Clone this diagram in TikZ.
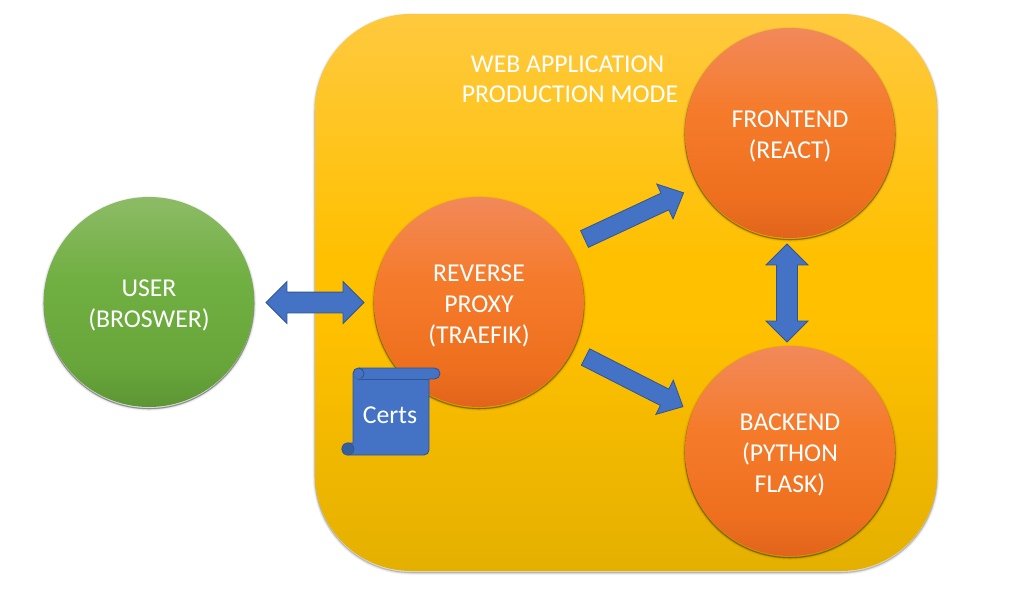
\documentclass[tikz,border=0pt]{standalone}
\usepackage{fontspec}
\setmainfont{Carlito}
\usetikzlibrary{shapes.arrows}
\definecolor{blk}{HTML}{4472C4}
\definecolor{blkline}{HTML}{2F5597}
\definecolor{blkdark}{HTML}{365F9E}
\definecolor{orA}{HTML}{E2641B}
\definecolor{orB}{HTML}{EE701F}
\definecolor{orC}{HTML}{F57B2A}
\definecolor{orD}{HTML}{F2895A}
\definecolor{grA}{HTML}{5C9634}
\definecolor{grB}{HTML}{68A63B}
\definecolor{grC}{HTML}{70AF41}
\definecolor{grD}{HTML}{8DBB66}
\definecolor{apA}{HTML}{E4B000}
\definecolor{apB}{HTML}{FFC000}
\definecolor{apC}{HTML}{FFC93E}
\pgfdeclareverticalshading{orangefill}{100bp}{color(0bp)=(orA);color(25bp)=(orA);color(35bp)=(orB);color(55bp)=(orC);color(75bp)=(orD);color(100bp)=(orD)}
\pgfdeclareverticalshading{greenfill}{100bp}{color(0bp)=(grA);color(25bp)=(grA);color(35bp)=(grB);color(55bp)=(grC);color(75bp)=(grD);color(100bp)=(grD)}
\pgfdeclareverticalshading{appfill}{100bp}{color(0bp)=(apA);color(25bp)=(apA);color(47bp)=(apB);color(53bp)=(apB);color(75bp)=(apC);color(100bp)=(apC)}
\tikzset{
  softshadow/.style={
    preaction={draw=black,draw opacity=.05,line width=3.5pt,transform canvas={yshift=-1.1pt}},
    preaction={draw=black,draw opacity=.08,line width=2pt,transform canvas={yshift=-1.1pt}},
    preaction={draw=black,draw opacity=.18,line width=.8pt,transform canvas={yshift=-1.1pt}}},
  ballshadow/.style={softshadow,
    preaction={draw=black,draw opacity=.22,line width=.8pt,transform canvas={yshift=-1.3pt}}},
  lbl/.style={text=white,align=center,font=\fontsize{19.3}{23.25}\selectfont},
  ball/.style={circle,minimum size=157.5pt,inner sep=0pt,outer sep=0pt,ballshadow,shade},
  orangeball/.style={ball,shading=orangefill},
  greenball/.style={ball,shading=greenfill},
  balltext/.style={lbl,yshift=-2.9pt,inner sep=0pt},
  blockone/.style={single arrow,draw=blkline,line width=.6pt,fill=blk,inner xsep=0pt,inner ysep=6.6pt,outer sep=0pt,
    anchor=tail,minimum width=28.2pt,minimum height=82pt,single arrow head extend=7.5pt,
    single arrow tip angle=86},
  blocktwo/.style={double arrow,draw=blkline,line width=.6pt,fill=blk,inner xsep=0pt,inner ysep=7.5pt,outer sep=0pt,
    minimum width=30.8pt,minimum height=73.5pt,double arrow head extend=7.9pt,
    double arrow tip angle=90},
  scroll/.style={fill=blk,draw=blkline,line width=.7pt,line join=round}
}
\begin{document}
\begin{tikzpicture}[x=.75pt,y=-.75pt]
\useasboundingbox (0,0) rectangle (1009,593);
\fill[white] (0,0) rectangle (1009,593);
% application panel
\node (app) at (626,292.5) [rectangle,rounded corners=72pt,minimum width=466.5pt,minimum height=417.75pt,
  inner sep=0pt,outer sep=0pt,softshadow,shade,shading=appfill] {};
\node[lbl,font=\fontsize{19.3}{22.5}\selectfont] (title) at (570,79) {WEB APPLICATION\rule{3.7pt}{0pt}\\PRODUCTION MODE};
% circles
\node[greenball,label={[balltext]center:USER\\(BROSWER)}] (user) at (149,302) {};
\node[orangeball,label={[balltext]center:REVERSE\\PROXY\\(TRAEFIK)}] (proxy) at (479,302) {};
\node[orangeball,label={[balltext]center:FRONTEND\\(REACT)}] (front) at (790,133) {};
\node[orangeball,label={[balltext]center:BACKEND\\(PYTHON\\FLASK)}] (back) at (790,451) {};
% block arrows
\node[blocktwo] (ab) at (315,302.5) {};
\node[blocktwo,rotate=90] (fb) at (787,293) {};
\node[blockone,rotate=25] (pf) at (584.5,239) {};
\node[blockone,rotate=-27] (pb) at (585.5,357) {};
% certificate scroll
\draw[scroll] (353,373.5) -- (353,443) -- (348,443)
  arc[start angle=-90,end angle=-270,radius=6] -- (424,455)
  arc[start angle=90,end angle=0,radius=5] -- (429,379) -- (434.5,379)
  arc[start angle=90,end angle=-90,radius=5.5] -- (358.5,368)
  arc[start angle=-90,end angle=-180,radius=5.5] -- cycle;
\fill[blkdark,draw=blkline,line width=.5pt] (348,443)
  arc[start angle=-90,end angle=-270,radius=6] arc[start angle=90,end angle=-90,radius=6] -- cycle;
\draw[blkline,line width=.7pt] (358,379) -- (429,379);
\fill[blkdark] (353,373.5) arc[start angle=180,end angle=90,radius=5.5] -- (364,379) -- (358,379)
  arc[start angle=90,end angle=180,radius=5] -- cycle;
\draw[blkline,line width=.7pt] (358.5,368) arc[start angle=-90,end angle=60,radius=5.5];
\node[lbl] (certs) at (390,415) {Certs};
\end{tikzpicture}
\end{document}
